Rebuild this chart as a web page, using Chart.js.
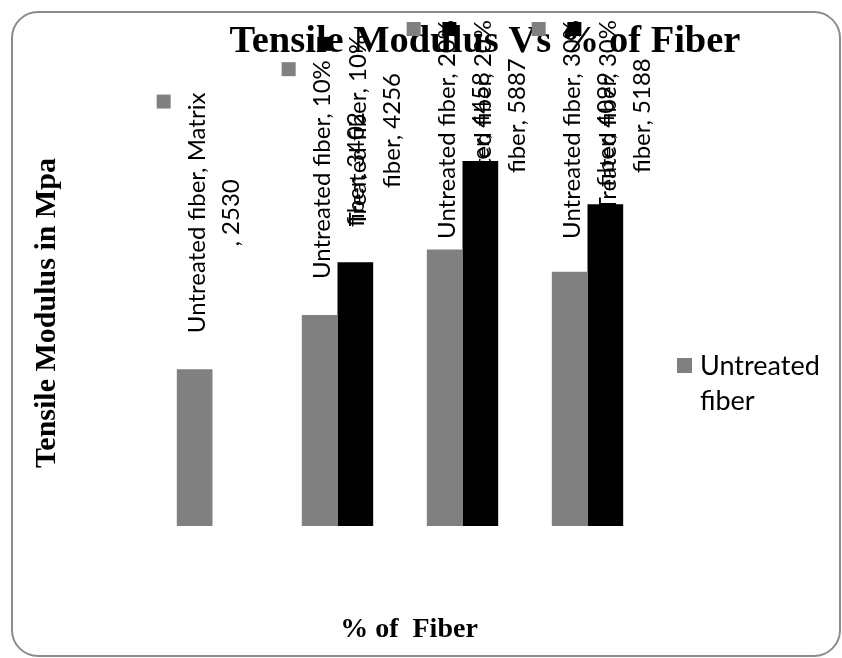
<!DOCTYPE html>
<html>
<head>
<meta charset="utf-8">
<script src="https://cdn.jsdelivr.net/npm/chart.js@4.4.1/dist/chart.umd.min.js"></script>
<style>
  html, body { margin: 0; padding: 0; background: #fff; }
  #wrap { width: 842px; height: 658px; }
</style>
</head>
<body>
<div id="wrap"><canvas id="chart" width="842" height="658"></canvas></div>
<script>
// --- DATA ---
const categories = ['Matrix', '10% fiber', '20% fiber', '30% fiber'];
const seriesNames = ['Untreated fiber', 'Treated fiber'];
const untreatedValues = [2530, 3402, 4458, 4099];
const treatedValues = [null, 4256, 5887, 5188];
const yMin = 0;
const yMax = 7000;

const chartTitle = 'Tensile Modulus Vs % of Fiber';
const yTitle = 'Tensile Modulus in Mpa';
const xTitle = '% of  Fiber';

const colors = ['#808080', '#000000'];
const labelFont = '24px Lato';
const labelWrap = 243;

// --- WRAP A DATA LABEL LIKE EXCEL DOES ---
function wrapLabel(ctx, series, category, value) {
    const tokens = (series + ', ' + category).split(' ');
    tokens.push(', ' + value);
    const lines = [];
    let line = '';
    tokens.forEach(t => {
        const next = line === '' ? t : (t.startsWith(',') ? line + t : line + ' ' + t);
        if (line !== '' && ctx.measureText(next).width > labelWrap) {
            lines.push(line);
            line = t;
        } else {
            line = next;
        }
    });
    if (line) lines.push(line);
    return lines;
}

// --- DECORATION PLUGIN: frame, titles, data labels, legend ---
const excelLook = {
    id: 'excelLook',
    beforeDraw(chart) {
        const ctx = chart.ctx;
        ctx.save();
        ctx.fillStyle = '#fff';
        ctx.fillRect(0, 0, chart.width, chart.height);
        ctx.beginPath();
        ctx.roundRect(12, 12, 828, 644, 26);
        ctx.strokeStyle = '#8c8c8c';
        ctx.lineWidth = 2;
        ctx.stroke();
        ctx.restore();
    },
    beforeDatasetsDraw(chart) {
        const ctx = chart.ctx;
        ctx.save();
        ctx.fillStyle = '#000';
        ctx.textAlign = 'center';
        ctx.textBaseline = 'alphabetic';
        ctx.font = 'bold 38.5px "Liberation Serif"';
        ctx.fillText(chartTitle, 485, 52);
        ctx.font = 'bold 28px "Liberation Serif"';
        ctx.fillText(xTitle, 409, 637);
        ctx.translate(55, 313);
        ctx.rotate(-Math.PI / 2);
        ctx.font = 'bold 30px "Liberation Serif"';
        ctx.fillText(yTitle, 0, 0);
        ctx.restore();
    },
    afterDatasetsDraw(chart) {
        const ctx = chart.ctx;
        ctx.save();
        ctx.font = labelFont;
        chart.data.datasets.forEach((ds, di) => {
            const meta = chart.getDatasetMeta(di);
            meta.data.forEach((bar, i) => {
                const v = ds.data[i];
                if (v === null || v === undefined) return;
                const lines = wrapLabel(ctx, ds.label, categories[i], v);
                const longest = Math.max(...lines.map(l => ctx.measureText(l).width));
                const top = Math.max(bar.y - 36 - longest, 20);
                // legend key of the label
                ctx.fillStyle = colors[di];
                ctx.fillRect(bar.x - 38, top + 2, 14, 14);
                // rotated text
                ctx.save();
                ctx.translate(bar.x, top + longest / 2);
                ctx.rotate(-Math.PI / 2);
                ctx.fillStyle = '#000';
                ctx.textAlign = 'center';
                ctx.textBaseline = 'middle';
                lines.forEach((l, li) => ctx.fillText(l, 0, 3 + li * 34));
                ctx.restore();
            });
        });
        // legend (only the first entry shows in the original)
        ctx.fillStyle = colors[0];
        ctx.fillRect(677, 358, 15, 15);
        ctx.fillStyle = '#000';
        ctx.font = '27px Lato';
        ctx.textAlign = 'left';
        ctx.textBaseline = 'alphabetic';
        const legendWords = seriesNames[0].split(' ');
        ctx.fillText(legendWords[0], 700, 375);
        ctx.fillText(legendWords[1], 700, 410);
        ctx.restore();
    }
};

// --- CHART ---
const ctx = document.getElementById('chart').getContext('2d');
new Chart(ctx, {
    type: 'bar',
    data: {
        labels: categories,
        datasets: [
            { label: seriesNames[0], data: untreatedValues, backgroundColor: colors[0] },
            { label: seriesNames[1], data: treatedValues, backgroundColor: colors[1] }
        ]
    },
    options: {
        responsive: false,
        animation: false,
        devicePixelRatio: 1,
        layout: { padding: { left: 150, right: 192, top: 92, bottom: 132 } },
        datasets: { bar: { categoryPercentage: 0.571, barPercentage: 1 } },
        scales: {
            x: { display: false, offset: true },
            y: { display: false, min: yMin, max: yMax }
        },
        plugins: {
            legend: { display: false },
            title: { display: false },
            tooltip: { enabled: false }
        }
    },
    plugins: [excelLook]
});
</script>
</body>
</html>
